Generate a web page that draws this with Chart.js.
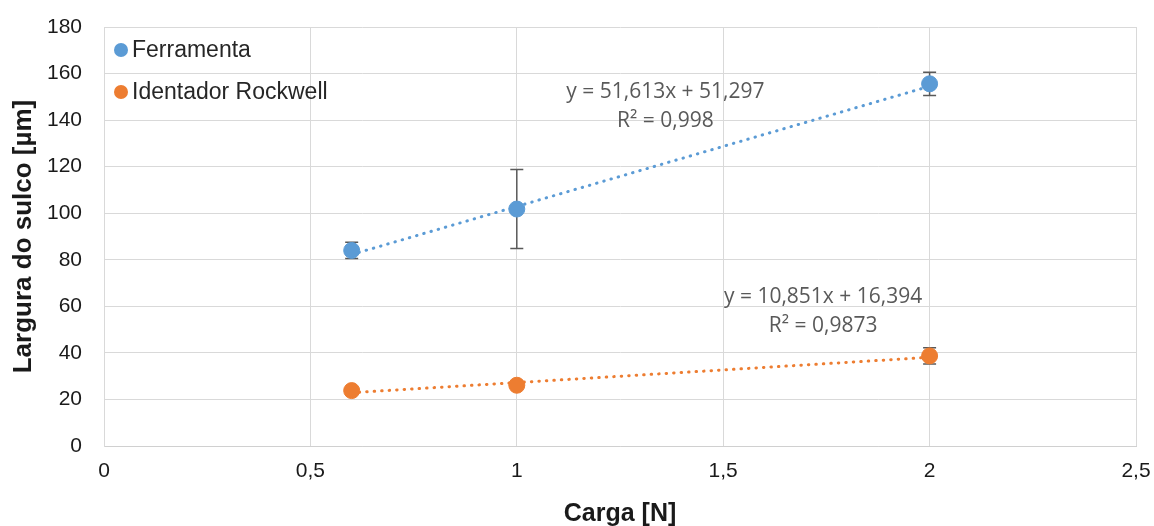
<!DOCTYPE html>
<html>
<head>
<meta charset="utf-8">
<script src="https://cdn.jsdelivr.net/npm/chart.js@4.4.1/dist/chart.umd.min.js"></script>
<style>
  html, body { margin: 0; padding: 0; background: #fff; }
  #wrap { width: 1154px; height: 526px; }
</style>
</head>
<body>
<div id="wrap"><canvas id="sulco" width="1154" height="526"></canvas></div>
<script>
(function () {
    "use strict";

    // Carga [N]
    var cargas = [0.6, 1, 2];
    // Largura do sulco [µm] e desvios
    var ferramenta = [84, 101.8, 155.6];
    var ferramentaErro = [3.5, 17, 5];
    var rockwell = [23.8, 26.1, 38.7];
    var rockwellErro = [1, 1, 3.5];
    // Linhas de tendência: [a, b] em y = a x + b
    var tendFerramenta = [51.613, 51.297];
    var tendRockwell = [10.851, 16.394];
    var r2Ferramenta = '0,998';
    var r2Rockwell = '0,9873';
    // Escalas
    var xMin = 0, xMax = 2.5, xStep = 0.5;
    var yMin = 0, yMax = 180, yStep = 20;

    var azul = '#5B9BD5';
    var laranja = '#ED7D31';

    function pontos(xs, ys) {
        return xs.map(function (x, i) { return {x: x, y: ys[i]}; });
    }
    function tendencia(coef, xs) {
        var x0 = xs[0], x1 = xs[xs.length - 1];
        return [{x: x0, y: coef[0] * x0 + coef[1]}, {x: x1, y: coef[0] * x1 + coef[1]}];
    }
    function virgula(n, casas) {
        return n.toFixed(casas).replace('.', ',');
    }

    // Barras de erro
    var barrasErro = {
        id: 'barrasErro',
        beforeDatasetsDraw: function (chart) {
            var ctx = chart.ctx, xs = chart.scales.x, ys = chart.scales.y;
            ctx.save();
            ctx.strokeStyle = '#595959';
            ctx.lineWidth = 1.5;
            chart.data.datasets.forEach(function (ds) {
                if (!ds.erro) return;
                ds.data.forEach(function (p, i) {
                    var px = xs.getPixelForValue(p.x);
                    var top = ys.getPixelForValue(p.y + ds.erro[i]);
                    var bot = ys.getPixelForValue(p.y - ds.erro[i]);
                    ctx.beginPath();
                    ctx.moveTo(px, top); ctx.lineTo(px, bot);
                    ctx.moveTo(px - 6.5, top); ctx.lineTo(px + 6.5, top);
                    ctx.moveTo(px - 6.5, bot); ctx.lineTo(px + 6.5, bot);
                    ctx.stroke();
                });
            });
            ctx.restore();
        }
    };

    // Equações das tendências e legenda
    var rotulos = {
        id: 'rotulos',
        afterDraw: function (chart) {
            var ctx = chart.ctx, xs = chart.scales.x, ys = chart.scales.y;
            ctx.save();
            ctx.fillStyle = '#595959';
            ctx.font = '21px "Open Sans"';
            ctx.textAlign = 'center';
            ctx.textBaseline = 'middle';
            var eqs = [
                {coef: tendFerramenta, r2: r2Ferramenta, x: 1.36, y: 152.2},
                {coef: tendRockwell, r2: r2Rockwell, x: 1.742, y: 64.1}
            ];
            eqs.forEach(function (e) {
                var px = xs.getPixelForValue(e.x), py = ys.getPixelForValue(e.y);
                ctx.fillText('y = ' + virgula(e.coef[0], 3) + 'x + ' + virgula(e.coef[1], 3), px, py);
                ctx.fillText('R² = ' + e.r2, px, py + 29);
            });

            // legenda
            var itens = [
                {txt: 'Ferramenta', cor: azul},
                {txt: 'Identador Rockwell', cor: laranja}
            ];
            ctx.textAlign = 'left';
            ctx.font = '23px "Liberation Sans", Arial, sans-serif';
            itens.forEach(function (it, i) {
                var y = chart.chartArea.top + 23 + i * 42;
                var x = chart.chartArea.left + 17;
                ctx.fillStyle = it.cor;
                ctx.beginPath();
                ctx.arc(x, y, 7, 0, Math.PI * 2);
                ctx.fill();
                ctx.fillStyle = '#262626';
                ctx.fillText(it.txt, x + 11, y + 1);
            });
            ctx.restore();
        }
    };

    var familia = '"Liberation Sans", Arial, sans-serif';
    var fonteEixo = {family: familia, size: 21};

    var grafico = new Chart(document.getElementById('sulco').getContext('2d'), {
        type: 'scatter',
        data: {
            datasets: [{
                label: 'Ferramenta',
                data: pontos(cargas, ferramenta),
                erro: ferramentaErro,
                backgroundColor: azul,
                borderColor: azul,
                pointRadius: 8,
                order: 0
            }, {
                label: 'Identador Rockwell',
                data: pontos(cargas, rockwell),
                erro: rockwellErro,
                backgroundColor: laranja,
                borderColor: laranja,
                pointRadius: 8,
                order: 0
            }, {
                label: 'Linear (Ferramenta)',
                type: 'line',
                data: tendencia(tendFerramenta, cargas),
                borderColor: azul,
                borderWidth: 3,
                borderDash: [0.5, 7],
                borderCapStyle: 'round',
                pointRadius: 0,
                fill: false,
                order: 1
            }, {
                label: 'Linear (Identador Rockwell)',
                type: 'line',
                data: tendencia(tendRockwell, cargas),
                borderColor: laranja,
                borderWidth: 3,
                borderDash: [0.5, 7],
                borderCapStyle: 'round',
                pointRadius: 0,
                fill: false,
                order: 1
            }]
        },
        options: {
            responsive: false,
            animation: false,
            devicePixelRatio: 1,
            layout: {padding: {top: 27, right: 18, left: 0, bottom: 0}},
            plugins: {
                legend: {display: false},
                tooltip: {enabled: false}
            },
            scales: {
                x: {
                    type: 'linear',
                    min: xMin, max: xMax,
                    ticks: {
                        stepSize: xStep,
                        color: '#1a1a1a',
                        font: fonteEixo,
                        padding: 13,
                        callback: function (v) { return String(v).replace('.', ','); }
                    },
                    grid: {color: '#d9d9d9', drawTicks: false},
                    border: {color: '#d0d0d0'},
                    title: {
                        display: true,
                        text: 'Carga [N]',
                        color: '#1a1a1a',
                        font: {family: familia, size: 25, weight: 'bold'},
                        padding: {top: 0, bottom: -3}
                    },
                    afterFit: function (s) {
                        s.height = 80;
                        s.paddingLeft = 0;
                        s.paddingRight = 0;
                    }
                },
                y: {
                    min: yMin, max: yMax,
                    ticks: {
                        stepSize: yStep,
                        color: '#1a1a1a',
                        font: fonteEixo,
                        padding: 22
                    },
                    grid: {color: '#d9d9d9', drawTicks: false},
                    border: {color: '#d9d9d9'},
                    title: {
                        display: true,
                        text: 'Largura do sulco [µm]',
                        color: '#1a1a1a',
                        font: {family: familia, size: 26, weight: 'bold'},
                        padding: {top: 8}
                    },
                    afterFit: function (s) {
                        s.width = 104;
                        s.paddingTop = 0;
                        s.paddingBottom = 0;
                    }
                }
            }
        },
        plugins: [barrasErro, rotulos]
    });
})();
</script>
</body>
</html>
